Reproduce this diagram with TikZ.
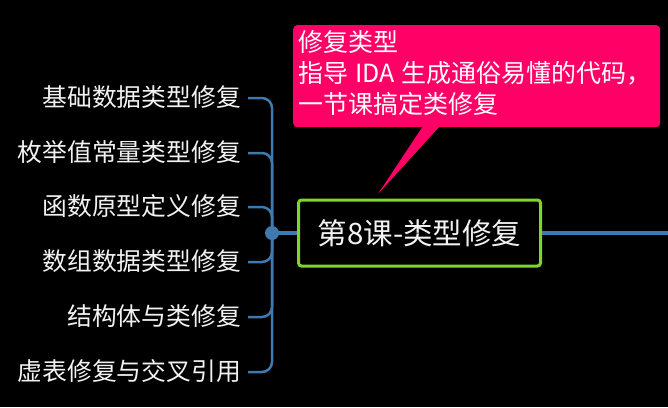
\documentclass[tikz,border=0pt]{standalone}
\usepackage{fontspec}
\setmainfont{Noto Sans CJK SC}
\definecolor{branchblue}{HTML}{3E7AAE}
\definecolor{callpink}{HTML}{FF0066}
\definecolor{boxgreen}{HTML}{7ED52E}
\definecolor{txt}{HTML}{F2F2F2}
\tikzset{
  leaf/.style={anchor=east, inner sep=0pt, text=txt, font=\fontsize{24.8}{28}\selectfont},
  branch/.style={draw=branchblue, line width=2.5pt, rounded corners=10pt},
  trunk/.style={draw=branchblue, line width=4pt},
  calltxt/.style={anchor=base west, inner sep=0pt, text=white, font=\fontsize{25}{28}\selectfont},
}
\begin{document}
\begin{tikzpicture}[x=1pt,y=-1pt]
\useasboundingbox (0,0) rectangle (668,407);
\fill[black] (0,0) rectangle (668,407);

% leaves
\node[leaf] (l1) at (241,97) {基础数据类型修复};
\node[leaf] (l2) at (241,152) {枚举值常量类型修复};
\node[leaf] (l3) at (241,206) {函数原型定义修复};
\node[leaf] (l4) at (241,261) {数组数据类型修复};
\node[leaf] (l5) at (241,316) {结构体与类修复};
\node[leaf] (l6) at (241,371) {虚表修复与交叉引用};

\coordinate (hub) at (272,233);
\coordinate (rightend) at (668,233);

\foreach \n/\y in {l1/98,l2/153,l3/207,l4/262,l5/317,l6/372}{
  \draw[branch] (248,\y) -| (hub);
}

% main node
\node[draw=boxgreen, line width=3pt, rounded corners=3pt, fill=black,
      minimum width=242pt, minimum height=66pt, inner sep=0pt,
      text=txt, font=\fontsize{29.5}{32}\selectfont] (main) at (419.5,233) {第8课-类型修复};

\draw[trunk] (hub) -- (main.west);
\draw[trunk] (main.east) -- (rightend);
\fill[branchblue] (hub) circle (7pt);

% callout
\node[fill=callpink, rounded corners=4pt, minimum width=367pt, minimum height=102pt,
      inner sep=0pt, anchor=north west] (callout) at (293,25) {};
\coordinate (tip) at (378,194);
\fill[callpink] (423,126) -- (tip) -- (440,126) -- cycle;
\node[calltxt] (t1) at (298,51) {修复类型};
\node[calltxt] (t2) at (298,82) {指导\hspace{7pt}IDA\hspace{7pt}生成通俗易懂的代码，};
\node[calltxt] (t3) at (298,113) {一节课搞定类修复};
\end{tikzpicture}
\end{document}
